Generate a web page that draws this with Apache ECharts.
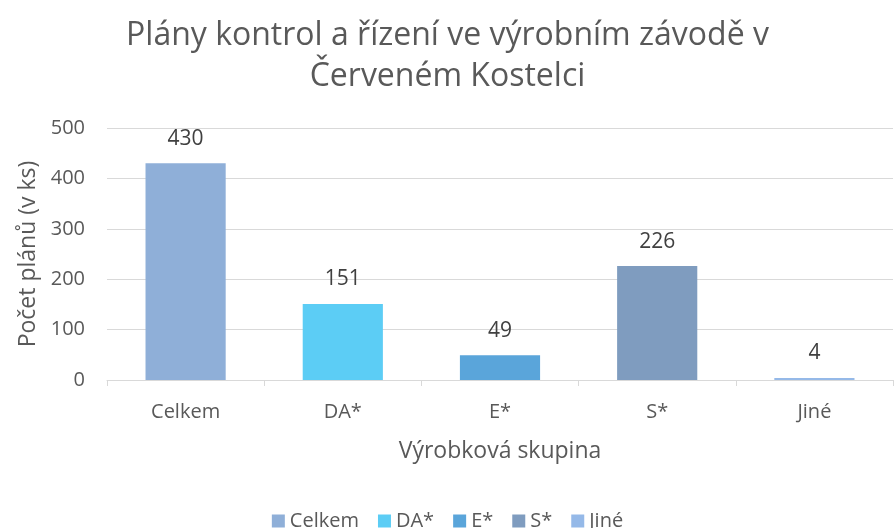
<!DOCTYPE html>
<html><head><meta charset="utf-8">
<script src="https://cdn.jsdelivr.net/npm/echarts@6/dist/echarts.min.js"></script>
<style>html,body{margin:0;padding:0;background:#fff}#c{width:895px;height:528px}</style>
</head><body><div id="c"></div>
<script>
const categories = ['Celkem', 'DA*', 'E*', 'S*', 'Jiné'];
const values = [430, 151, 49, 226, 4];
const colors = ['#8FAFD8', '#5CCDF5', '#5AA5DA', '#7F9CBF', '#95B9E8'];
const yTicks = [0, 100, 200, 300, 400, 500];
const FONT = 'Open Sans';
const TXT = '#595959';

const series = categories.map((name, i) => ({
  name: name,
  type: 'bar',
  stack: 'all',
  barWidth: '51%',
  data: categories.map((c, j) => j === i ? values[i] : '-'),
  itemStyle: { color: colors[i] },
  label: { show: true, position: 'top', distance: 14, color: '#404040', fontFamily: FONT, fontSize: 21 }
}));

const chart = echarts.init(document.getElementById('c'));
chart.setOption({
  animation: false,
  title: {
    text: 'Plány kontrol a řízení ve výrobním závodě v\nČerveném Kostelci',
    left: 'center', top: 10,
    textStyle: { fontFamily: FONT, fontSize: 32, fontWeight: 'normal', color: TXT, lineHeight: 41 }
  },
  legend: {
    bottom: -8, left: 'center', itemWidth: 13, itemHeight: 13, itemGap: 19,
    icon: 'rect',
    textStyle: { fontFamily: FONT, fontSize: 20, color: TXT },
    data: categories
  },
  grid: { left: 107, right: 2, top: 128, bottom: 148, containLabel: false },
  xAxis: {
    type: 'category', data: categories,
    name: 'Výrobková skupina', nameLocation: 'middle', nameGap: 60,
    nameTextStyle: { fontFamily: FONT, fontSize: 23, color: TXT },
    axisLine: { lineStyle: { color: '#D9D9D9', width: 1 } },
    axisTick: { show: true, length: 6, lineStyle: { color: '#D9D9D9' } },
    axisLabel: { fontFamily: FONT, fontSize: 20, color: TXT, margin: 22 }
  },
  yAxis: {
    type: 'value', min: 0, max: 500, interval: 100,
    name: 'Počet plánů (v ks)', nameLocation: 'middle', nameGap: 64,
    nameTextStyle: { fontFamily: FONT, fontSize: 23, color: TXT },
    axisLine: { show: false }, axisTick: { show: false },
    splitLine: { lineStyle: { color: '#D9D9D9', width: 1 } },
    axisLabel: { fontFamily: FONT, fontSize: 20, color: TXT, margin: 22,
      formatter: v => yTicks.includes(v) ? String(v) : '' }
  },
  series: series
});
</script></body></html>
